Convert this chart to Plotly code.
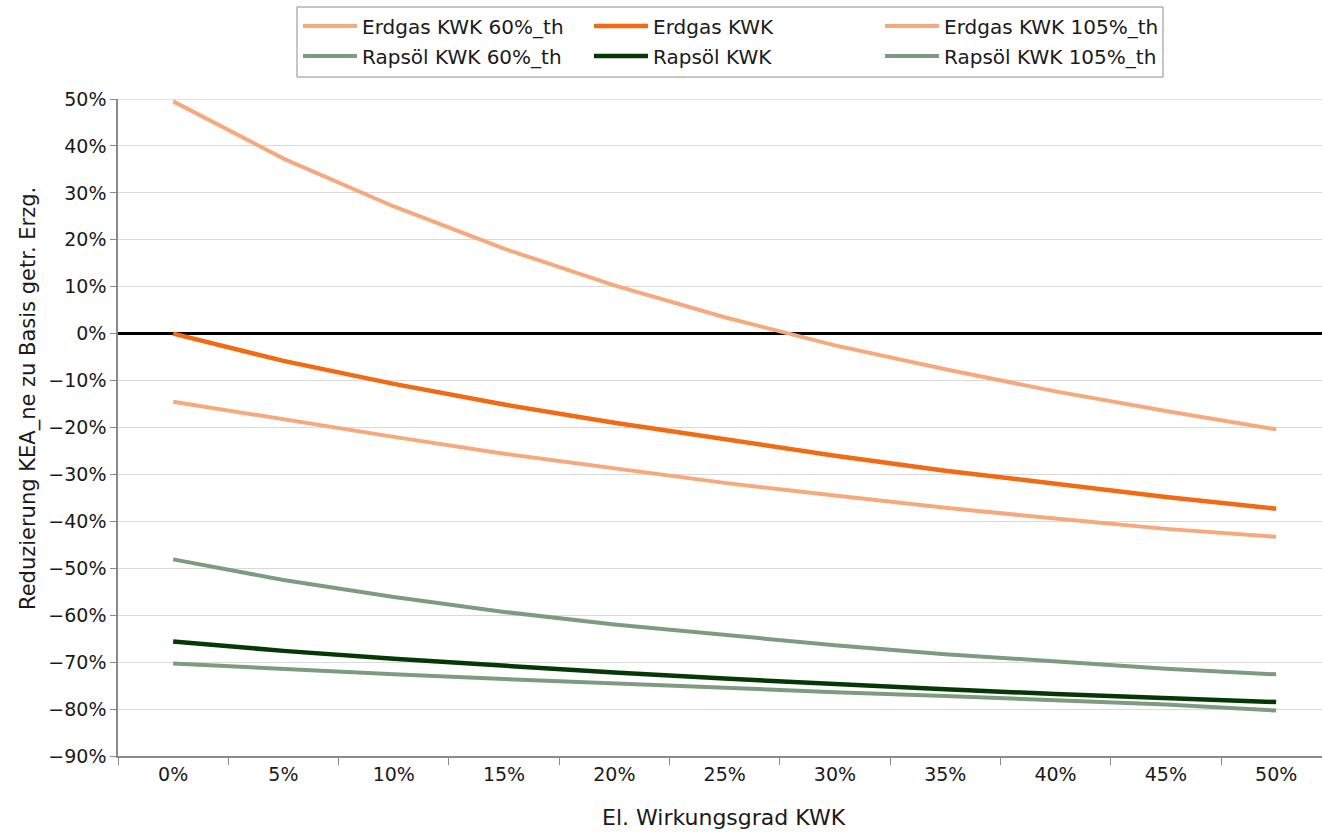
import plotly.graph_objects as go

# Electrical efficiency of the CHP unit (category axis)
eff_labels = ["0%", "5%", "10%", "15%", "20%", "25%", "30%", "35%", "40%", "45%", "50%"]

# Reduction of KEA_ne relative to separate generation, in %
erdgas_kwk_60 = [49.5, 37.3, 27.1, 18.1, 10.3, 3.5, -2.5, -7.6, -12.3, -16.5, -20.4]
erdgas_kwk = [0.0, -5.8, -10.7, -15.1, -19.0, -22.6, -26.0, -29.2, -32.0, -34.8, -37.3]
erdgas_kwk_105 = [-14.5, -18.3, -22.0, -25.6, -28.8, -31.8, -34.5, -37.1, -39.4, -41.6, -43.3]
rapsoel_kwk_60 = [-48.1, -52.5, -56.1, -59.3, -62.0, -64.3, -66.4, -68.3, -69.9, -71.4, -72.6]
rapsoel_kwk = [-65.6, -67.6, -69.3, -70.8, -72.2, -73.5, -74.7, -75.8, -76.8, -77.7, -78.5]
rapsoel_kwk_105 = [-70.3, -71.5, -72.6, -73.6, -74.6, -75.5, -76.4, -77.2, -78.1, -79.0, -80.3]

y_ticks = list(range(-90, 51, 10))
y_ticktext = [f"{v}%".replace("-", "\u2212") for v in y_ticks]

LIGHT_ORANGE = "#F7A97E"
ORANGE = "#F26A12"
GREY_GREEN = "#7E9B80"
DARK_GREEN = "#063806"
GRID = "#D9D9D9"
AXIS = "#8A8A8A"
TEXT = "#1a1a1a"
FONT = "DejaVu Sans"

W, H = 1322, 833
L, T, R, B = 118, 99, 0, 77
plot_w = W - L - R
plot_h = H - T - B
cat_w = 110.3


def px_x(px):
    return (px - L) / plot_w


def px_y(py):
    return (H - B - py) / plot_h


series = [
    ("Erdgas KWK 60%_th", erdgas_kwk_60, LIGHT_ORANGE, 4, "legend"),
    ("Erdgas KWK", erdgas_kwk, ORANGE, 4.5, "legend"),
    ("Erdgas KWK 105%_th", erdgas_kwk_105, LIGHT_ORANGE, 4, "legend"),
    ("Rapsöl KWK 60%_th", rapsoel_kwk_60, GREY_GREEN, 4, "legend2"),
    ("Rapsöl KWK", rapsoel_kwk, DARK_GREEN, 4.5, "legend2"),
    ("Rapsöl KWK 105%_th", rapsoel_kwk_105, GREY_GREEN, 4, "legend2"),
]

fig = go.Figure()
for name, vals, color, width, leg in series:
    fig.add_trace(go.Scatter(
        x=eff_labels, y=vals, name=name, mode="lines",
        line=dict(color=color, width=width),
        legend=leg,
    ))

legend_common = dict(
    orientation="h", xanchor="left", yanchor="middle",
    entrywidth=222, entrywidthmode="pixels", itemwidth=54,
    font=dict(family=FONT, size=20, color=TEXT),
    bgcolor="rgba(0,0,0,0)", borderwidth=0, tracegroupgap=0,
)

fig.update_layout(
    width=W, height=H,
    margin=dict(l=L, r=R, t=T, b=B, pad=0),
    paper_bgcolor="white", plot_bgcolor="white",
    font=dict(family=FONT, size=19, color=TEXT),
    legend=dict(x=px_x(298), y=px_y(26), **legend_common),
    legend2=dict(x=px_x(298), y=px_y(56), **legend_common),
    xaxis=dict(
        type="category", categoryorder="array", categoryarray=eff_labels,
        range=[-0.5, -0.5 + plot_w / cat_w],
        tickson="boundaries", ticks="outside", ticklen=7, tickcolor=AXIS,
        showline=True, linecolor=AXIS, linewidth=1.5,
        showgrid=False, zeroline=False,
        tickfont=dict(family=FONT, size=19, color=TEXT),
    ),
    yaxis=dict(
        range=[-90, 50], tickvals=y_ticks, ticktext=y_ticktext,
        ticks="outside", ticklen=6, tickcolor=AXIS,
        showline=True, linecolor=AXIS, linewidth=1.5,
        showgrid=True, gridcolor=GRID, gridwidth=1,
        zeroline=True, zerolinecolor="black", zerolinewidth=3,
        tickfont=dict(family=FONT, size=19, color=TEXT),
    ),
    shapes=[
        # legend frame
        dict(type="rect", xref="paper", yref="paper",
             x0=px_x(297), x1=px_x(1163), y0=px_y(77), y1=px_y(7),
             line=dict(color="#8C8C8C", width=1), fillcolor="rgba(0,0,0,0)"),
        # top edge of the plot area
        dict(type="line", xref="paper", yref="y", x0=0, x1=1, y0=50, y1=50,
             line=dict(color=GRID, width=1.5), layer="below"),
    ],
    annotations=[
        dict(text="Reduzierung KEA_ne zu Basis getr. Erzg.", textangle=-90,
             xref="paper", yref="paper", x=px_x(28), y=px_y(399),
             xanchor="center", yanchor="middle", showarrow=False,
             font=dict(family=FONT, size=21, color=TEXT)),
        dict(text="El. Wirkungsgrad KWK",
             xref="paper", yref="paper", x=px_x(724), y=px_y(817),
             xanchor="center", yanchor="middle", showarrow=False,
             font=dict(family=FONT, size=22, color=TEXT)),
    ],
)

fig.write_html("out.html")
